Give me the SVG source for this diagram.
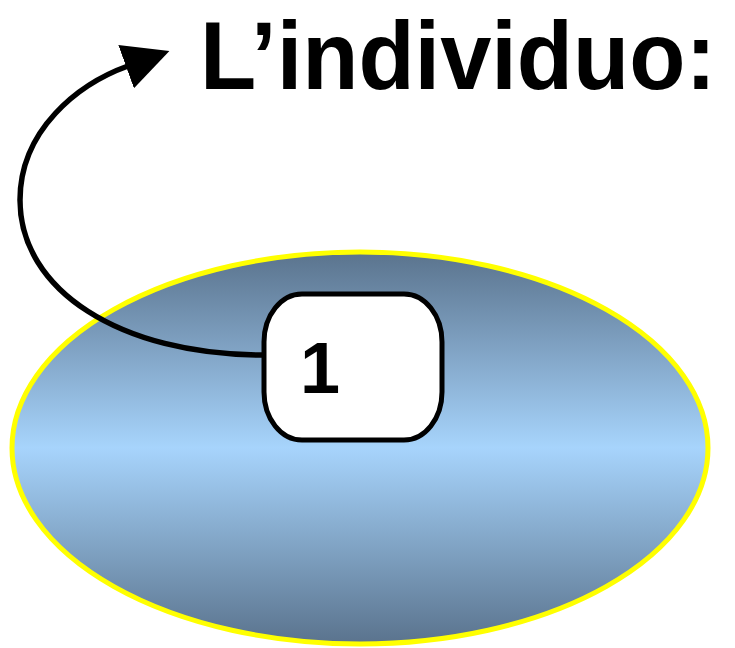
<svg xmlns="http://www.w3.org/2000/svg" width="735" height="648" viewBox="0 0 735 648">
<style>
.title{font-family:"Liberation Sans",Arial,sans-serif;font-weight:bold;font-size:92px;fill:#000}
.num{font-family:"Liberation Sans",Arial,sans-serif;font-weight:bold;font-size:72px;fill:#000}
.conn{fill:none;stroke:#000;stroke-width:5.5}
</style>
<defs>
<linearGradient id="g" x1="0" y1="0" x2="0" y2="1">
<stop offset="0" stop-color="#5a738d"/>
<stop offset="0.5" stop-color="#a7d4fc"/>
<stop offset="1" stop-color="#5a738d"/>
</linearGradient>
<marker id="ah" markerUnits="userSpaceOnUse" viewBox="0 0 46 46" refX="2" refY="23" markerWidth="46" markerHeight="46" orient="auto">
<path d="M0,0 L46,23 L0,46 z" fill="#000"/>
</marker>
</defs>
<g id="ellipse">
<ellipse cx="360" cy="448" rx="348" ry="196" fill="url(#g)" stroke="#ffff00" stroke-width="5"/>
</g>
<g id="connectors">
<path class="conn" d="M 263 355 C 120 355, 20 290, 20 200 C 20 130, 78 84, 128 66" marker-end="url(#ah)"/>
</g>
<g id="title">
<text class="title" x="0" y="0" transform="translate(200,89) scale(1,1.05)">L’individuo:</text>
</g>
<g id="node1">
<rect x="264" y="294" width="178" height="146" rx="38" ry="48" fill="#fff" stroke="#000" stroke-width="5"/>
<text class="num" x="300" y="393">1</text>
</g>
</svg>
